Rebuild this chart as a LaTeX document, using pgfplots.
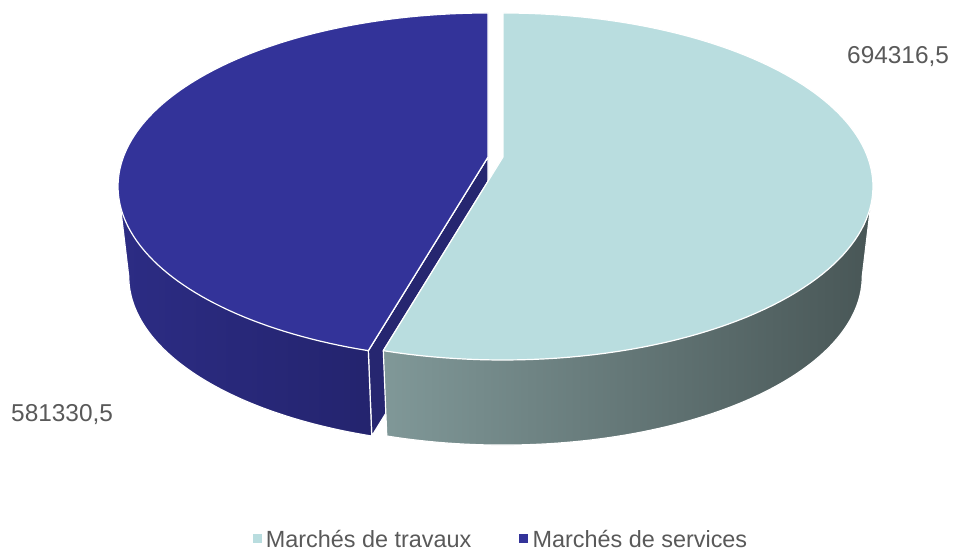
\documentclass[border=0pt]{standalone}
\usepackage{pgfplots}
\pgfplotsset{compat=1.18}
\usepackage{pgfplotstable}
\usepackage{fontspec}
\setmainfont{Liberation Sans}
\definecolor{lightTop}{RGB}{185,221,223}
\definecolor{darkTop}{RGB}{51,51,153}
\definecolor{lightSideL}{RGB}{128,152,152}
\definecolor{lightSideM}{RGB}{75,89,89}
\definecolor{lightSideR}{RGB}{72,86,86}
\definecolor{darkSideL}{RGB}{44,44,132}
\definecolor{darkSideR}{RGB}{32,32,100}
\definecolor{darkCut}{RGB}{38,38,112}
\definecolor{txt}{RGB}{89,89,89}

\pgfplotstableread{
label value
travaux 694316.5
services 581330.5
}\piedata
\pgfplotstablegetelem{0}{value}\of\piedata \let\valA\pgfplotsretval
\pgfplotstablegetelem{1}{value}\of\piedata \let\valB\pgfplotsretval

\pgfkeys{/pgf/fpu=true,/pgf/fpu/output format=fixed}
\pgfmathsetmacro\splitang{90-360*\valA/(\valA+\valB)}
\pgfkeys{/pgf/fpu=false}

\pgfkeys{/pgf/declare function={PX(\a,\r)=\r*cos(\a)/(1+0.17*sin(\a)); PY(\a,\r)=\r*sin(\a)/(1+0.17*sin(\a));}}

% geometry (pixel units, y upwards)
\def\cxL{503}\def\cxD{488}\def\cyT{399}\def\cyB{308}
\def\sT{364.6}\def\cT{168.5}\def\sB{354}\def\cB{163.6}
\pgfmathsetmacro\thR{-asin(0.17)}
\pgfmathsetmacro\thL{180+asin(0.17)}
\pgfmathsetmacro\splitD{\splitang+360}
% light wedge points
\pgfmathsetmacro\LtSx{\cxL+PX(\splitang,\sT)}\pgfmathsetmacro\LtSy{\cyT+PY(\splitang,\cT)}
\pgfmathsetmacro\LtRx{\cxL+PX(\thR,\sT)}\pgfmathsetmacro\LtRy{\cyT+PY(\thR,\cT)}
% dark wedge points
\pgfmathsetmacro\DtSx{\cxD+PX(\splitang,\sT)}\pgfmathsetmacro\DtSy{\cyT+PY(\splitang,\cT)}
\pgfmathsetmacro\DbSx{\cxD+PX(\splitang,\sB)}\pgfmathsetmacro\DbSy{\cyB+PY(\splitang,\cB)}
\pgfmathsetmacro\DtLx{\cxD+PX(\thL,\sT)}\pgfmathsetmacro\DtLy{\cyT+PY(\thL,\cT)}

\begin{document}
\begin{tikzpicture}
\begin{axis}[
  width=955bp, height=556bp, scale only axis,
  xmin=0, xmax=955, ymin=0, ymax=556,
  hide axis, clip=false,
  legend columns=2,
  legend style={at={(0.5246,0.029)}, anchor=center, draw=none, fill=none,
    font=\fontsize{23.5}{26}\selectfont, text=txt,
    /tikz/every even column/.append style={column sep=46bp}},
  legend cell align=left,
]
\addlegendimage{legend image code/.code={\fill[lightTop,draw=none] (0bp,-3bp) rectangle (9bp,6bp); \path[draw=none,fill=none] (11bp,0bp) circle (0.1bp);}}
\addlegendentry{Marchés de travaux}
\addlegendimage{legend image code/.code={\fill[darkTop,draw=none] (0bp,-3bp) rectangle (9bp,6bp); \path[draw=none,fill=none] (11bp,0bp) circle (0.1bp);}}
\addlegendentry{Marchés de services}

\addplot[draw=none, forget plot] coordinates {(0,0) (955,556)};

% dark wedge: cut face
\addplot[forget plot, fill=darkCut, draw=white, line width=1.2bp, line join=round]
  coordinates {(\cxD,\cyT) (\DtSx,\DtSy) (\DbSx,\DbSy) (\cxD,\cyB)} -- cycle;
% dark wedge: side
\addplot[forget plot, left color=darkSideL, right color=darkSideR, draw=white, line width=1.2bp, line join=round,
  domain=\thL:\splitD, samples=80]
  ({\cxD+PX(x,\sB)},{\cyB+PY(x,\cB)}) -- (axis cs:\DtSx,\DtSy) -- (axis cs:\cxD,\cyT) -- (axis cs:\DtLx,\DtLy) -- cycle;
% dark wedge: top
\addplot[forget plot, fill=darkTop, draw=white, line width=1.2bp, line join=round,
  domain=90:\splitD, samples=120]
  ({\cxD+PX(x,\sT)},{\cyT+PY(x,\cT)}) -- (axis cs:\cxD,\cyT) -- cycle;

% light wedge: side
\addplot[forget plot, left color=lightSideL, middle color=lightSideM, right color=lightSideR, draw=white, line width=1.2bp, line join=round,
  domain=\splitang:\thR, samples=80]
  ({\cxL+PX(x,\sB)},{\cyB+PY(x,\cB)}) -- (axis cs:\LtRx,\LtRy) -- (axis cs:\cxL,\cyT) -- (axis cs:\LtSx,\LtSy) -- cycle;
% light wedge: top
\addplot[forget plot, fill=lightTop, draw=white, line width=1.2bp, line join=round,
  domain=\splitang:90, samples=120]
  ({\cxL+PX(x,\sT)},{\cyT+PY(x,\cT)}) -- (axis cs:\cxL,\cyT) -- cycle;

% data labels
\node[anchor=west, text=txt, font=\fontsize{24.5}{28}\selectfont, inner sep=0pt] at (axis cs:847,499)
  {\pgfmathprintnumber[fixed, fixed zerofill, precision=1, use comma, 1000 sep={}, assume math mode=true]{\valA}};
\node[anchor=west, text=txt, font=\fontsize{24.5}{28}\selectfont, inner sep=0pt] at (axis cs:11,141)
  {\pgfmathprintnumber[fixed, fixed zerofill, precision=1, use comma, 1000 sep={}, assume math mode=true]{\valB}};
\end{axis}
\end{tikzpicture}
\end{document}
